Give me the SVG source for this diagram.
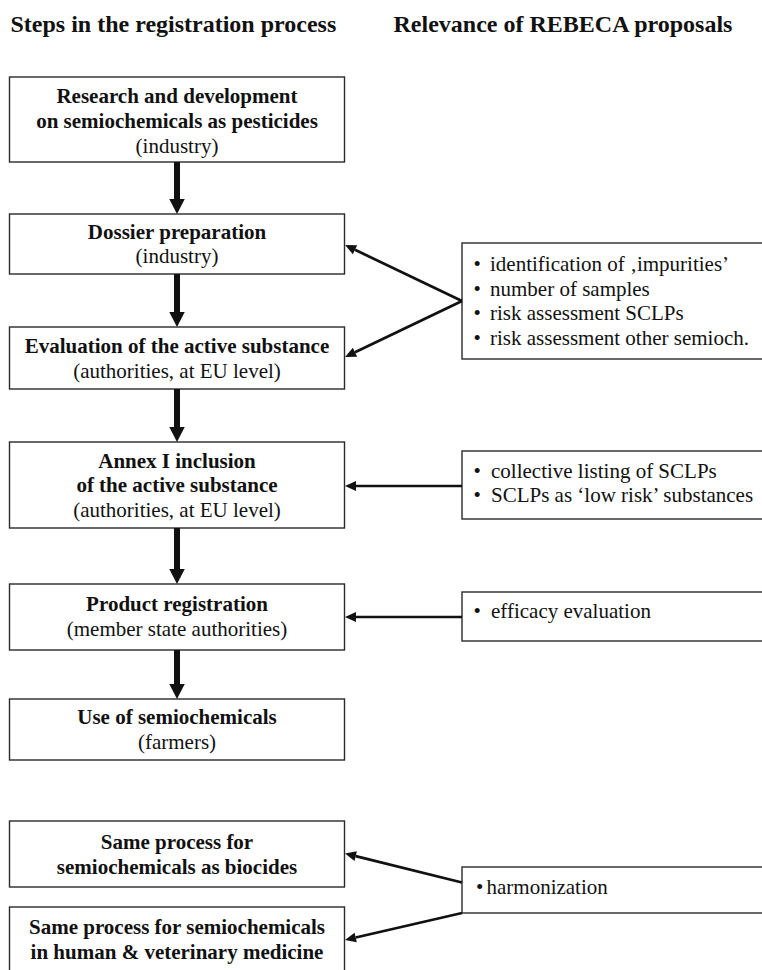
<svg xmlns="http://www.w3.org/2000/svg" width="762" height="970" viewBox="0 0 762 970">
<style>
  text { font-family: "Liberation Serif", "Times New Roman", serif; fill: #111; }
  .h { font-size: 24px; font-weight: bold; }
  .b { font-size: 21px; font-weight: bold; text-anchor: middle; }
  .r { font-size: 21px; }
  .rc { font-size: 21px; text-anchor: middle; }
  .box { fill: #fff; stroke: #2a2a2a; stroke-width: 1.4; }
  .thick { stroke: #111; stroke-width: 6; fill: none; marker-end: url(#bigHead); }
  .thin { stroke: #111; stroke-width: 2.7; fill: none; marker-end: url(#smallHead); }
</style>
<defs>
  <marker id="bigHead" markerUnits="userSpaceOnUse" markerWidth="16" markerHeight="16" refX="0" refY="7.75" orient="auto" overflow="visible">
    <path d="M0,0 L15,7.75 L0,15.5 z" fill="#111"/>
  </marker>
  <marker id="smallHead" markerUnits="userSpaceOnUse" markerWidth="12" markerHeight="12" refX="0" refY="5" orient="auto" overflow="visible">
    <path d="M0,0 L11,5 L0,10 z" fill="#111"/>
  </marker>
</defs>
<rect width="762" height="970" fill="#fff"/>

<g id="headings">
  <text class="h" x="10.5" y="31.5">Steps in the registration process</text>
  <text class="h" x="393.5" y="31.5">Relevance of REBECA proposals</text>
</g>

<g id="step1">
  <rect class="box" x="9.5" y="77" width="335" height="85"/>
  <text class="b" x="177" y="102.5">Research and development</text>
  <text class="b" x="177" y="127.5">on semiochemicals as pesticides</text>
  <text class="rc" x="177" y="152.5">(industry)</text>
</g>
<g id="step2">
  <rect class="box" x="9.5" y="214" width="335" height="60"/>
  <text class="b" x="177" y="238.5">Dossier preparation</text>
  <text class="rc" x="177" y="263">(industry)</text>
</g>
<g id="step3">
  <rect class="box" x="9.5" y="327" width="335" height="62"/>
  <text class="b" x="177" y="352.5">Evaluation of the active substance</text>
  <text class="rc" x="177" y="377.5">(authorities, at EU level)</text>
</g>
<g id="step4">
  <rect class="box" x="9.5" y="442" width="335" height="86"/>
  <text class="b" x="177" y="467.5">Annex I inclusion</text>
  <text class="b" x="177" y="492">of the active substance</text>
  <text class="rc" x="177" y="517">(authorities, at EU level)</text>
</g>
<g id="step5">
  <rect class="box" x="9.5" y="584" width="335" height="66"/>
  <text class="b" x="177" y="610.5">Product registration</text>
  <text class="rc" x="177" y="635.5">(member state authorities)</text>
</g>
<g id="step6">
  <rect class="box" x="9.5" y="699" width="335" height="61"/>
  <text class="b" x="177" y="724">Use of semiochemicals</text>
  <text class="rc" x="177" y="748.5">(farmers)</text>
</g>
<g id="biocides">
  <rect class="box" x="9.5" y="821" width="335" height="66"/>
  <text class="b" x="177" y="848.5">Same process for</text>
  <text class="b" x="177" y="873.5">semiochemicals as biocides</text>
</g>
<g id="medicine">
  <rect class="box" x="9.5" y="907" width="335" height="70"/>
  <text class="b" x="177" y="934">Same process for semiochemicals</text>
  <text class="b" x="177" y="958.5">in human &amp; veterinary medicine</text>
</g>

<g id="proposals1">
  <rect class="box" x="462" y="243" width="310" height="116"/>
  <text class="r" x="473.5" y="271">•</text><text class="r" x="490" y="271">identification of ‚impurities’</text>
  <text class="r" x="473.5" y="295.5">•</text><text class="r" x="490" y="295.5">number of samples</text>
  <text class="r" x="473.5" y="320">•</text><text class="r" x="490" y="320">risk assessment SCLPs</text>
  <text class="r" x="473.5" y="344.5">•</text><text class="r" x="490" y="344.5">risk assessment other semioch.</text>
</g>
<g id="proposals2">
  <rect class="box" x="462" y="451" width="310" height="68"/>
  <text class="r" x="473.5" y="477.5">•</text><text class="r" x="491" y="477.5">collective listing of SCLPs</text>
  <text class="r" x="473.5" y="501.5">•</text><text class="r" x="491" y="501.5">SCLPs as ‘low risk’ substances</text>
</g>
<g id="proposals3">
  <rect class="box" x="462" y="592" width="310" height="49"/>
  <text class="r" x="473.5" y="617.5">•</text><text class="r" x="491" y="617.5">efficacy evaluation</text>
</g>
<g id="proposals4">
  <rect class="box" x="462" y="867" width="310" height="46"/>
  <text class="r" x="476" y="893.5">•</text><text class="r" x="486.5" y="893.5">harmonization</text>
</g>

<g id="connectors">
  <line class="thick" x1="177" y1="162" x2="177" y2="199"/>
  <line class="thick" x1="177" y1="274" x2="177" y2="312"/>
  <line class="thick" x1="177" y1="389" x2="177" y2="427"/>
  <line class="thick" x1="177" y1="528" x2="177" y2="569"/>
  <line class="thick" x1="177" y1="650" x2="177" y2="684"/>
  <line class="thin" x1="462" y1="301" x2="355" y2="249.8"/>
  <line class="thin" x1="462" y1="301" x2="355" y2="352.2"/>
  <line class="thin" x1="462" y1="486" x2="356" y2="486"/>
  <line class="thin" x1="462" y1="617" x2="356" y2="617"/>
  <line class="thin" x1="462" y1="882.5" x2="355.7" y2="856.1"/>
  <line class="thin" x1="462" y1="913" x2="355.7" y2="937.5"/>
</g>
</svg>
